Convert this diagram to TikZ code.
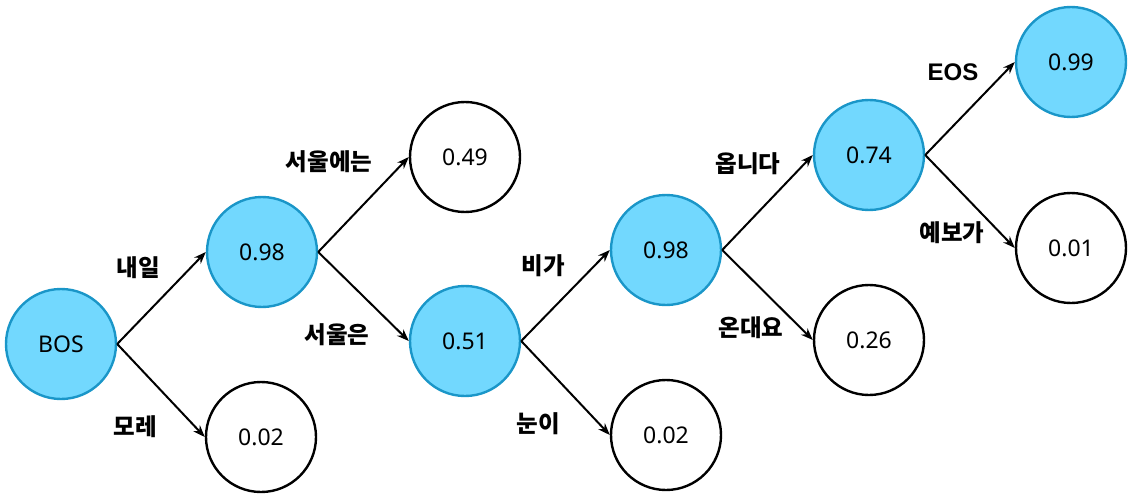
\documentclass[tikz,border=0pt]{standalone}
\usepackage{fontspec}
\setmainfont{Noto Sans}
\newfontfamily\kr{Noto Sans CJK KR}
\newfontfamily\latb{Liberation Sans}
\usetikzlibrary{arrows.meta}
\definecolor{nodefill}{RGB}{114,216,254}
\definecolor{nodeedge}{RGB}{26,150,200}
\tikzset{
  prob/.style={circle, draw=black, line width=2.4pt, fill=white, minimum size=110pt, inner sep=0pt, font=\fontsize{23}{26}\selectfont},
  chosen/.style={prob, draw=nodeedge, fill=nodefill},
  conn/.style={line width=2pt, -{Stealth[length=12pt,width=9pt]}},
  word/.style={font=\kr\bfseries\fontsize{23.5}{26}\selectfont, inner sep=0pt},
  latword/.style={font=\latb\bfseries\fontsize{24}{27}\selectfont, inner sep=0pt}
}
\begin{document}
\begin{tikzpicture}[x=1pt,y=-1pt]
\useasboundingbox (0,0) rectangle (1132,500);
\node[chosen] (bos) at (61,344) {BOS};
\node[chosen] (a1) at (262,252) {0.98};
\node[prob] (a2) at (261,437) {0.02};
\node[prob] (b1) at (465,157) {0.49};
\node[chosen] (b2) at (465,341) {0.51};
\node[chosen] (c1) at (666,250) {0.98};
\node[prob] (c2) at (666,435) {0.02};
\node[chosen] (d1) at (869,155) {0.74};
\node[prob] (d2) at (869,340) {0.26};
\node[chosen] (e1) at (1071,62) {0.99};
\node[prob] (e2) at (1071,248) {0.01};
\draw[conn] (bos.east) -- (a1.west);
\draw[conn] (bos.east) -- (a2.west);
\draw[conn] (a1.east) -- (b1.west);
\draw[conn] (a1.east) -- (b2.west);
\draw[conn] (b2.east) -- (c1.west);
\draw[conn] (b2.east) -- (c2.west);
\draw[conn] (c1.east) -- (d1.west);
\draw[conn] (c1.east) -- (d2.west);
\draw[conn] (d1.east) -- (e1.west);
\draw[conn] (d1.east) -- (e2.west);
\node[word] (w1) at (138,268) {내일};
\node[word] (w2) at (135,427) {모레};
\node[word] (w3) at (329,162) {서울에는};
\node[word] (w4) at (337,335) {서울은};
\node[word] (w5) at (543,266) {비가};
\node[word] (w6) at (538,424) {눈이};
\node[word] (w7) at (748,164) {옵니다};
\node[word] (w8) at (751,328) {온대요};
\node[latword] (w9) at (953,72) {EOS};
\node[word] (w10) at (952,233) {예보가};
\end{tikzpicture}
\end{document}
